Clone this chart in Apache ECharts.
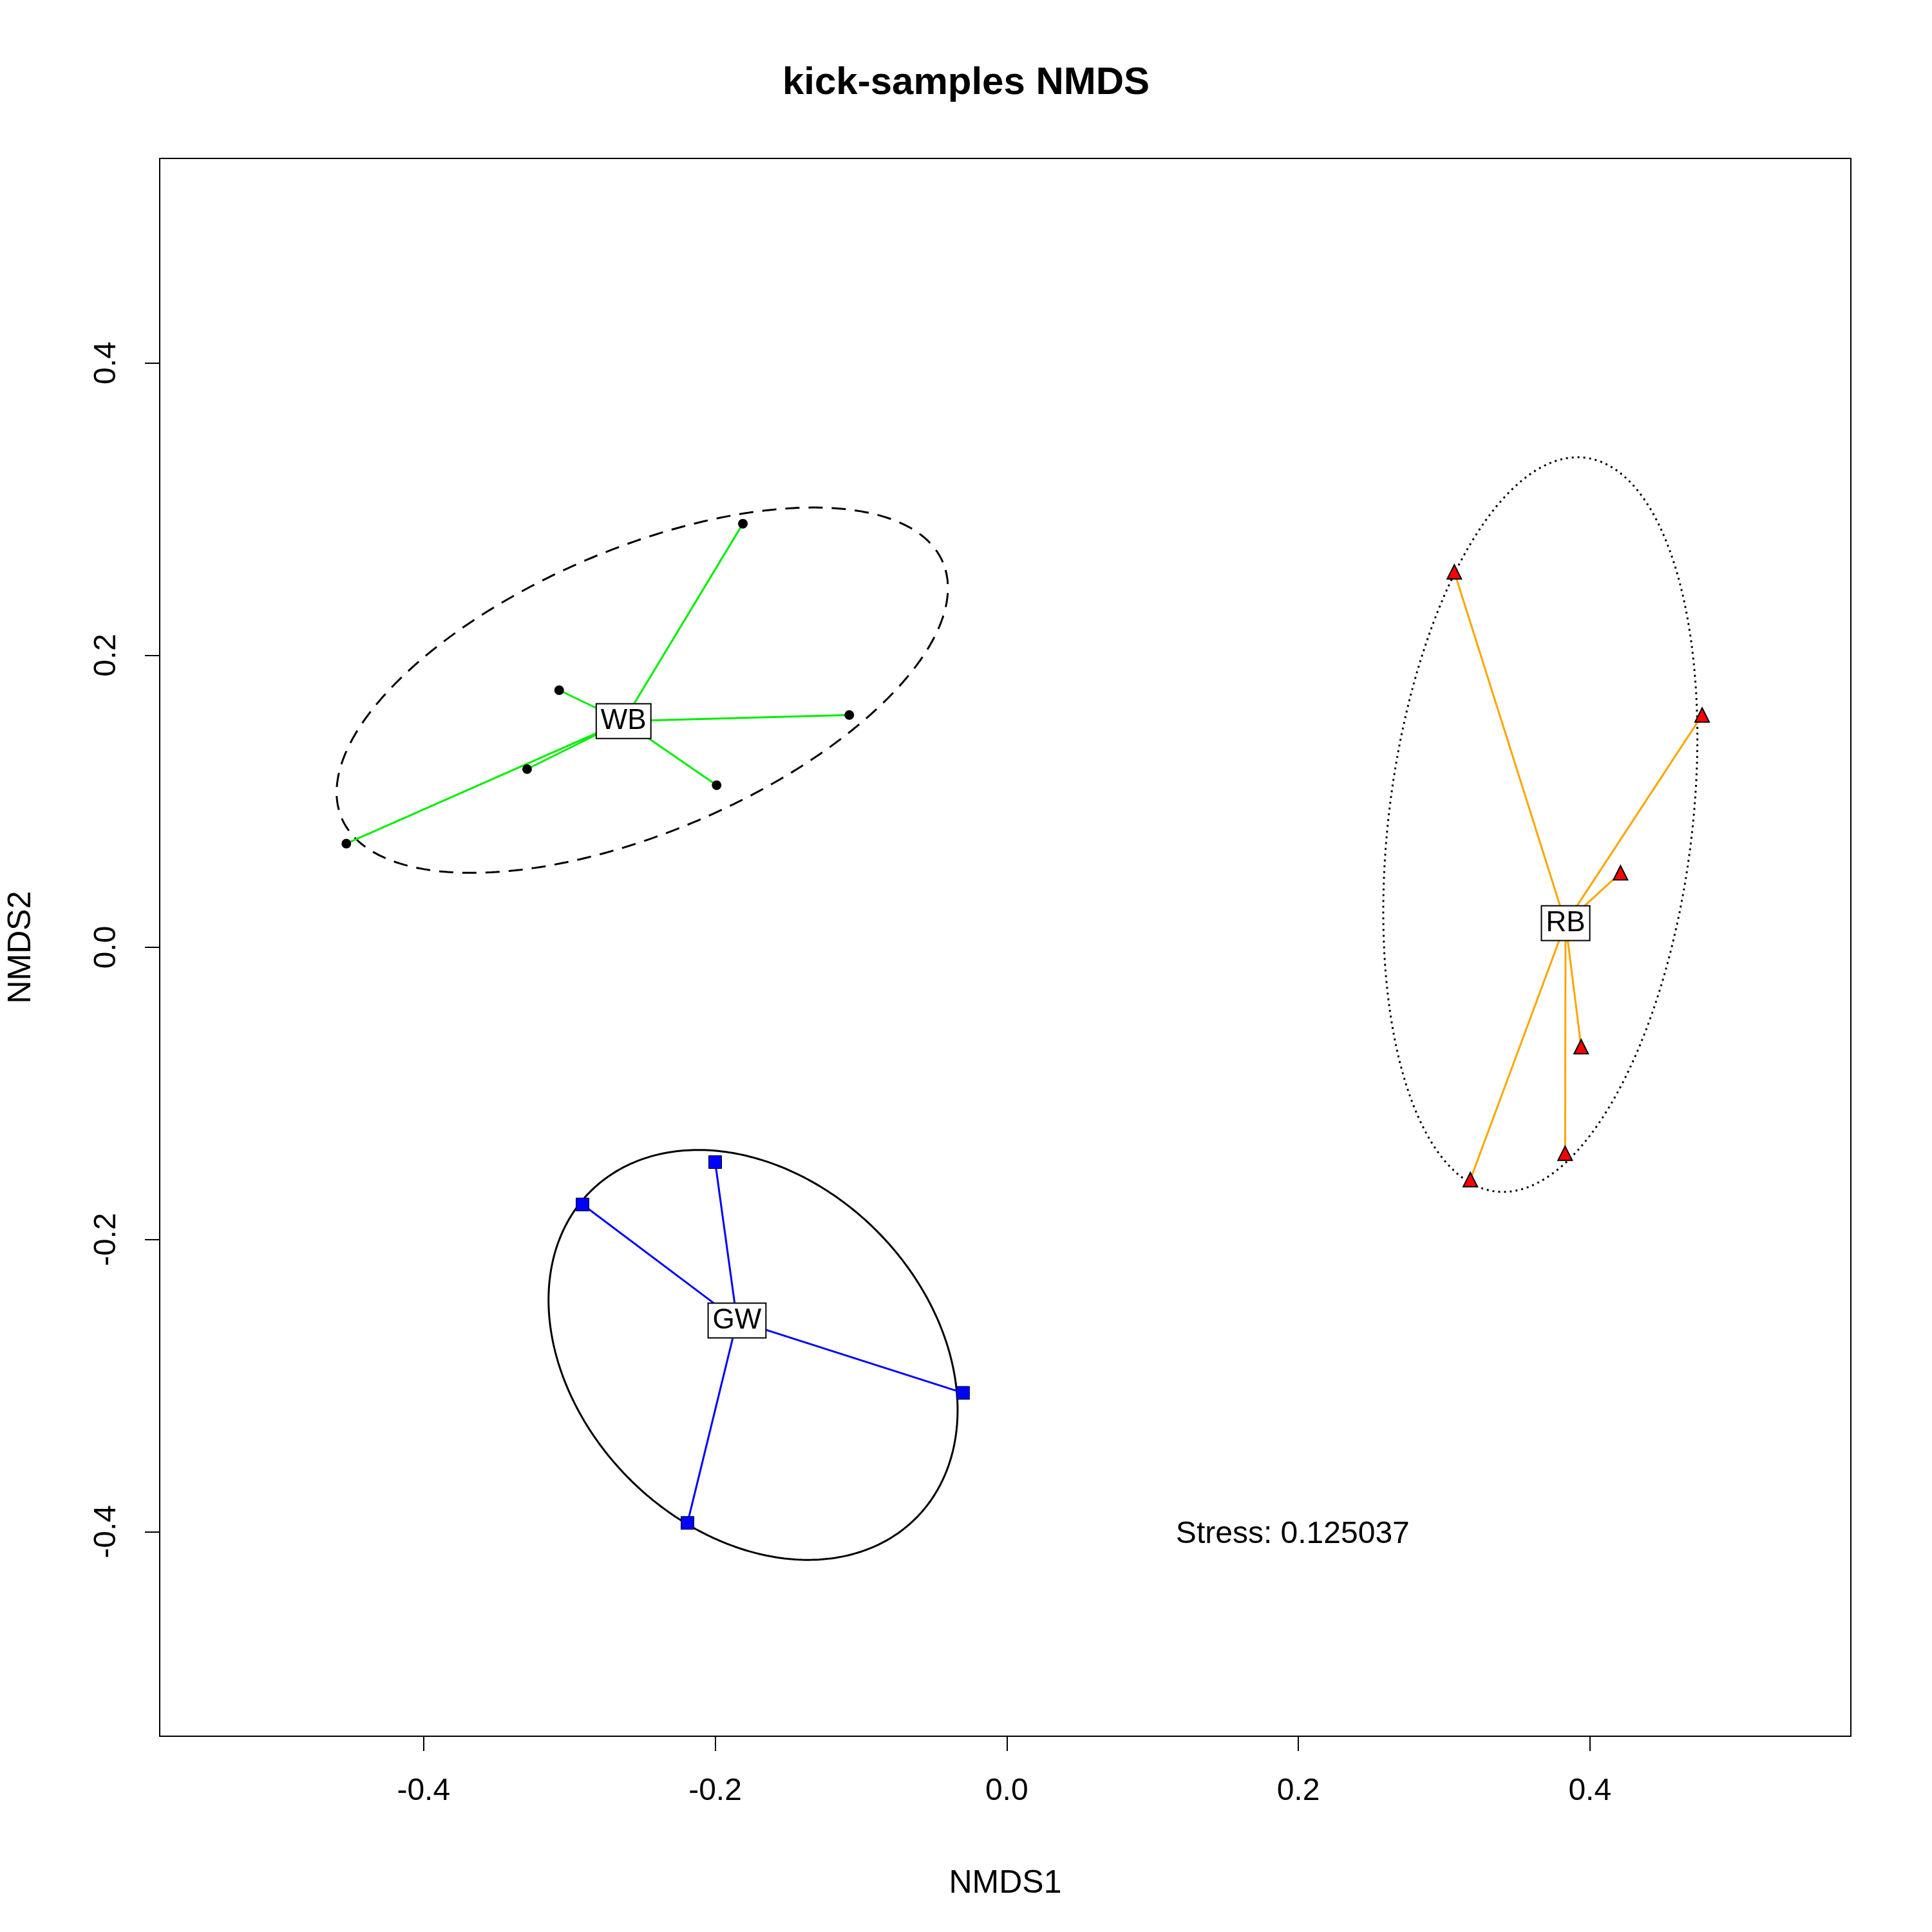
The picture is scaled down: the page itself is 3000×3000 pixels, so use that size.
<!DOCTYPE html>
<html>
<head>
<meta charset="utf-8">
<script src="https://cdn.jsdelivr.net/npm/echarts@6/dist/echarts.min.js"></script>
<style>body{margin:0}#c{width:3000px;height:3000px;background:#fff}</style>
</head>
<body>
<div id="c"></div>
<script>
var xTicks = [-0.4, -0.2, 0.0, 0.2, 0.4];
var yTicks = [-0.4, -0.2, 0.0, 0.2, 0.4];

var wbX = [-0.453, -0.329, -0.307, -0.181, -0.108, -0.199];
var wbY = [0.071, 0.122, 0.176, 0.290, 0.159, 0.111];
var gwX = [-0.291, -0.200, -0.030, -0.219];
var gwY = [-0.176, -0.147, -0.305, -0.394];
var rbX = [0.307, 0.477, 0.421, 0.394, 0.383, 0.318];
var rbY = [0.257, 0.159, 0.051, -0.068, -0.141, -0.159];

// ellipse: centre x, centre y, semi-axis a, semi-axis b, angle (deg)
var wbEll = [-0.250, 0.176, 0.224, 0.097, 23];
var gwEll = [-0.174, -0.279, 0.158, 0.120, -45];
var rbEll = [0.366, 0.084, 0.253, 0.104, 83];

var stress = 'Stress: 0.125037';

function pts(xs, ys) {
    return xs.map(function (v, i) { return [v, ys[i]]; });
}
function mean(a) {
    return a.reduce(function (s, v) { return s + v; }, 0) / a.length;
}
function spider(xs, ys) {
    var c = [mean(xs), mean(ys)];
    var out = [];
    for (var i = 0; i < xs.length; i++) {
        out.push(c, [xs[i], ys[i]]);
    }
    out.push(c);
    return out;
}
function ellipse(e) {
    var out = [], t = e[4] * Math.PI / 180;
    for (var i = 0; i <= 360; i++) {
        var s = i * Math.PI / 180;
        var u = e[2] * Math.cos(s), v = e[3] * Math.sin(s);
        out.push([e[0] + u * Math.cos(t) - v * Math.sin(t), e[1] + u * Math.sin(t) + v * Math.cos(t)]);
    }
    return out;
}
var font = 'Liberation Sans';
function boxLabel(name, xs, ys) {
    return {
        type: 'scatter', symbolSize: 0, z: 10,
        itemStyle: { opacity: 1 },
        data: [[mean(xs), mean(ys)]],
        label: {
            show: true, position: 'inside', formatter: name,
            fontSize: 44, color: '#000', fontFamily: font,
            backgroundColor: '#fff', borderColor: '#000', borderWidth: 2,
            padding: [5, 6, 3, 6]
        }
    };
}
function ellSeries(e, dash) {
    return {
        type: 'line', data: ellipse(e), showSymbol: false, silent: true,
        lineStyle: { color: '#000', width: 3, type: dash }
    };
}
function spiderSeries(xs, ys, color) {
    return {
        type: 'line', data: spider(xs, ys), showSymbol: false,
        lineStyle: { color: color, width: 3 }
    };
}

var chart = echarts.init(document.getElementById('c'));
chart.setOption({
    animation: false,
    title: {
        text: 'kick-samples NMDS', left: 'center', top: 94,
        textStyle: { fontSize: 60, fontWeight: 'bold', color: '#000', fontFamily: font }
    },
    grid: { left: 246, right: 126, top: 246, bottom: 304, show: true, borderColor: '#000', borderWidth: 2 },
    xAxis: {
        type: 'value', min: -0.581, max: 0.579,
        name: 'NMDS1', nameLocation: 'middle', nameGap: 204,
        nameTextStyle: { fontSize: 50, color: '#000', fontFamily: font },
        splitLine: { show: false }, axisLine: { show: false, onZero: false },
        axisTick: { show: true, length: 23, lineStyle: { color: '#000', width: 2 }, customValues: xTicks },
        axisLabel: { fontSize: 48, color: '#000', fontFamily: font, margin: 62, customValues: xTicks,
            formatter: function (v) { return v.toFixed(1); } }
    },
    yAxis: {
        type: 'value', min: -0.540, max: 0.540,
        name: 'NMDS2', nameLocation: 'middle', nameGap: 190,
        nameTextStyle: { fontSize: 50, color: '#000', fontFamily: font },
        splitLine: { show: false }, axisLine: { show: false, onZero: false },
        axisTick: { show: true, length: 23, lineStyle: { color: '#000', width: 2 }, customValues: yTicks },
        axisLabel: { fontSize: 48, color: '#000', fontFamily: font, margin: 58, rotate: 90, customValues: yTicks,
            formatter: function (v) { return v.toFixed(1); } }
    },
    series: [
        ellSeries(wbEll, [22, 14]),
        ellSeries(gwEll, 'solid'),
        ellSeries(rbEll, [3, 6]),
        spiderSeries(wbX, wbY, '#00ee00'),
        spiderSeries(gwX, gwY, '#0000ff'),
        spiderSeries(rbX, rbY, '#ffa500'),
        { type: 'scatter', data: pts(wbX, wbY), symbol: 'circle', symbolSize: 15, itemStyle: { color: '#000', opacity: 1 }, z: 5 },
        { type: 'scatter', data: pts(gwX, gwY), symbol: 'rect', symbolSize: 20, itemStyle: { color: '#0000ff', borderColor: '#000', borderWidth: 1, opacity: 1 }, z: 5 },
        { type: 'scatter', data: pts(rbX, rbY), symbol: 'triangle', symbolSize: 22, itemStyle: { color: '#ff0000', borderColor: '#000', borderWidth: 2, opacity: 1 }, z: 5 },
        boxLabel('WB', wbX, wbY),
        boxLabel('GW', gwX, gwY),
        boxLabel('RB', rbX, rbY),
        {
            type: 'scatter', symbolSize: 0, data: [[0.116, -0.402]], itemStyle: { opacity: 1 },
            label: { show: true, position: 'right', distance: 0, formatter: stress, fontSize: 48, color: '#000', fontFamily: font }
        }
    ]
});
</script>
</body>
</html>
